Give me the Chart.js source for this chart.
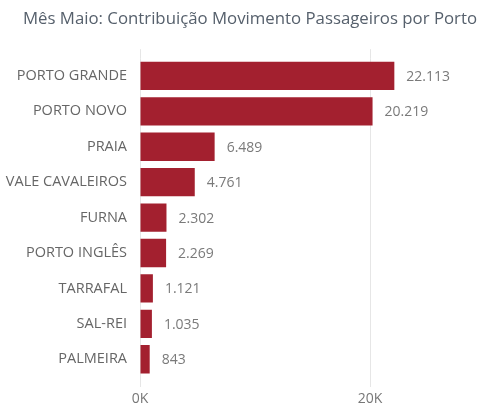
<!DOCTYPE html>
<html>
<head>
<meta charset="utf-8">
<script src="https://cdn.jsdelivr.net/npm/chart.js@4"></script>
<style>
  html, body { margin: 0; padding: 0; background: #fff; }
  #wrap { width: 483px; height: 407px; }
</style>
</head>
<body>
<div id="wrap"><canvas id="chart"></canvas></div>
<script>
const titleText = 'Mês Maio: Contribuição Movimento Passageiros por Porto';
const ports = ['PORTO GRANDE', 'PORTO NOVO', 'PRAIA', 'VALE CAVALEIROS', 'FURNA',
    'PORTO INGLÊS', 'TARRAFAL', 'SAL-REI', 'PALMEIRA'];
const passengers = [22113, 20219, 6489, 4761, 2302, 2269, 1121, 1035, 843];
const xTicks = [0, 20000];

const barColor = '#a3202f';
const fontFamily = '"Open Sans", "Noto Sans", sans-serif';

// separador de milhares com ponto
const fmt = v => String(v).replace(/\B(?=(\d{3})+(?!\d))/g, '.');

const valueLabels = {
    id: 'valueLabels',
    afterDatasetsDraw(chart) {
        const ctx = chart.ctx;
        const meta = chart.getDatasetMeta(0);
        ctx.save();
        ctx.font = '14px ' + fontFamily;
        ctx.fillStyle = '#7a7a7a';
        ctx.textAlign = 'left';
        ctx.textBaseline = 'middle';
        meta.data.forEach((bar, i) => {
            ctx.fillText(fmt(passengers[i]), bar.x + 12, bar.y + 1);
        });
        ctx.restore();
    }
};

// só os ticks 0K e 20K
const keepTicks = s => { s.ticks = xTicks.map(v => ({ value: v })); };

new Chart(document.getElementById('chart'), {
    type: 'bar',
    data: {
        labels: ports,
        datasets: [{
            data: passengers,
            backgroundColor: barColor,
            borderWidth: 0,
            categoryPercentage: 0.8,
            barPercentage: 1
        }]
    },
    options: {
        indexAxis: 'y',
        responsive: true,
        maintainAspectRatio: false,
        animation: false,
        layout: { padding: { left: 0, right: 6, top: 0, bottom: 0 } },
        plugins: {
            legend: { display: false },
            tooltip: { enabled: false },
            title: {
                display: true,
                text: titleText,
                align: 'end',
                color: '#56606c',
                font: { family: fontFamily, size: 16.8, weight: 'normal' },
                padding: { top: 9, bottom: 9 }
            }
        },
        scales: {
            y: {
                grid: { display: false, drawTicks: false },
                border: { display: false },
                ticks: {
                    color: '#666666',
                    font: { family: fontFamily, size: 14.5 },
                    padding: 13
                },
                afterFit: s => { s.width = 140; }
            },
            x: {
                min: 0,
                max: 29300,
                position: 'bottom',
                afterBuildTicks: keepTicks,
                border: { display: false },
                grid: { color: '#e6e6e6', lineWidth: 1, drawTicks: true, tickLength: 10 },
                ticks: {
                    color: '#777777',
                    padding: 4,
                    font: { family: fontFamily, size: 14 },
                    callback: v => (v / 1000) + 'K'
                },
                afterFit: s => { s.height = 30; }
            },
            x2: {
                axis: 'x',
                min: 0,
                max: 29300,
                position: 'top',
                afterBuildTicks: keepTicks,
                border: { display: false },
                grid: { color: '#e6e6e6', lineWidth: 1, drawOnChartArea: false, drawTicks: true, tickLength: 9 },
                ticks: { display: false },
                afterFit: s => { s.height = 20; }
            }
        }
    },
    plugins: [valueLabels]
});
</script>
</body>
</html>
